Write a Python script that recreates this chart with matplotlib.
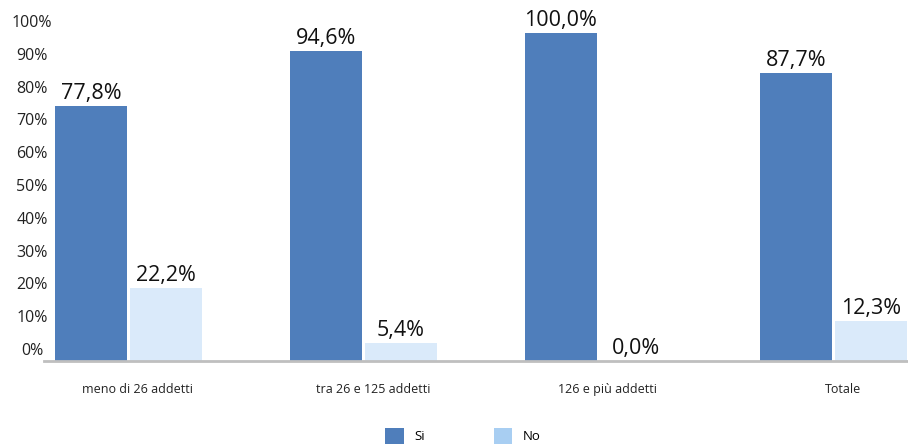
import matplotlib
matplotlib.use("Agg")
import matplotlib.pyplot as plt
import matplotlib.transforms as mtransforms
from matplotlib.patches import Patch
import numpy as np

plt.rcParams['font.family'] = ['Open Sans', 'DejaVu Sans']

categories = ["meno di 26 addetti", "tra 26 e 125 addetti", "126 e più addetti", "Totale"]
si_values = [77.8, 94.6, 100.0, 87.7]
no_values = [22.2, 5.4, 0.0, 12.3]
series_names = ["Si", "No"]
y_ticks = [0, 10, 20, 30, 40, 50, 60, 70, 80, 90, 100]

col_si = "#4F7EBB"
col_no = "#DAEAFA"
col_no_legend = "#A8CEF2"

W, H = 908, 446
fig = plt.figure(figsize=(W / 100, H / 100), dpi=100)
ax = fig.add_axes([44 / W, (H - 361) / H, (908 - 44) / W, (361 - 33) / H])

x = np.arange(len(categories))
bw = 0.306
off = 0.16
bars_si = ax.bar(x - off, si_values, bw, color=col_si, zorder=2)
bars_no = ax.bar(x + off, no_values, bw, color=col_no, zorder=2)

def fmt(v):
    return f"{v:.1f}%".replace(".", ",")

for bars, vals in ((bars_si, si_values), (bars_no, no_values)):
    for b, v in zip(bars, vals):
        ax.annotate(fmt(v), (b.get_x() + b.get_width() / 2, v),
                    xytext=(0, 1.5), textcoords="offset points",
                    ha="center", va="bottom", fontsize=15.5, color="#111111",
                    clip_on=False)

ax.set_xlim(-0.36, 3.318)
ax.set_ylim(0, 100)
ax.set_yticks(y_ticks)
ax.set_yticklabels([f"{t}%" for t in y_ticks], fontsize=11.5, color="#222222")
ax.set_xticks(x + 0.04)
ax.set_xticklabels(categories, fontsize=9, color="#222222")

for s in ("top", "right", "left"):
    ax.spines[s].set_visible(False)
ax.spines["bottom"].set_color("#BFBFBF")
ax.spines["bottom"].set_linewidth(2)
ax.tick_params(axis="both", length=0)
ax.tick_params(axis="x", pad=16)
ax.tick_params(axis="y", pad=0)

# y labels sit centred at x≈32 px and slightly above their gridline values
shift = mtransforms.ScaledTranslation(0, 12 / 100, fig.dpi_scale_trans)
for lbl in ax.get_yticklabels():
    lbl.set_horizontalalignment("center")
    lbl.set_x(-(44 - 32) / (908 - 44))
    lbl.set_transform(mtransforms.blended_transform_factory(ax.transAxes, ax.transData) + shift)

handles = [Patch(facecolor=col_si, edgecolor="none"), Patch(facecolor=col_no_legend, edgecolor="none")]
fig.legend(handles, series_names, loc="center", bbox_to_anchor=(463 / W, 1 - 436 / H),
           ncol=2, frameon=False, fontsize=9.5, handlelength=1.4, handleheight=1.4,
           columnspacing=5.2, handletextpad=0.8)

fig.savefig("out.png", dpi=100)
